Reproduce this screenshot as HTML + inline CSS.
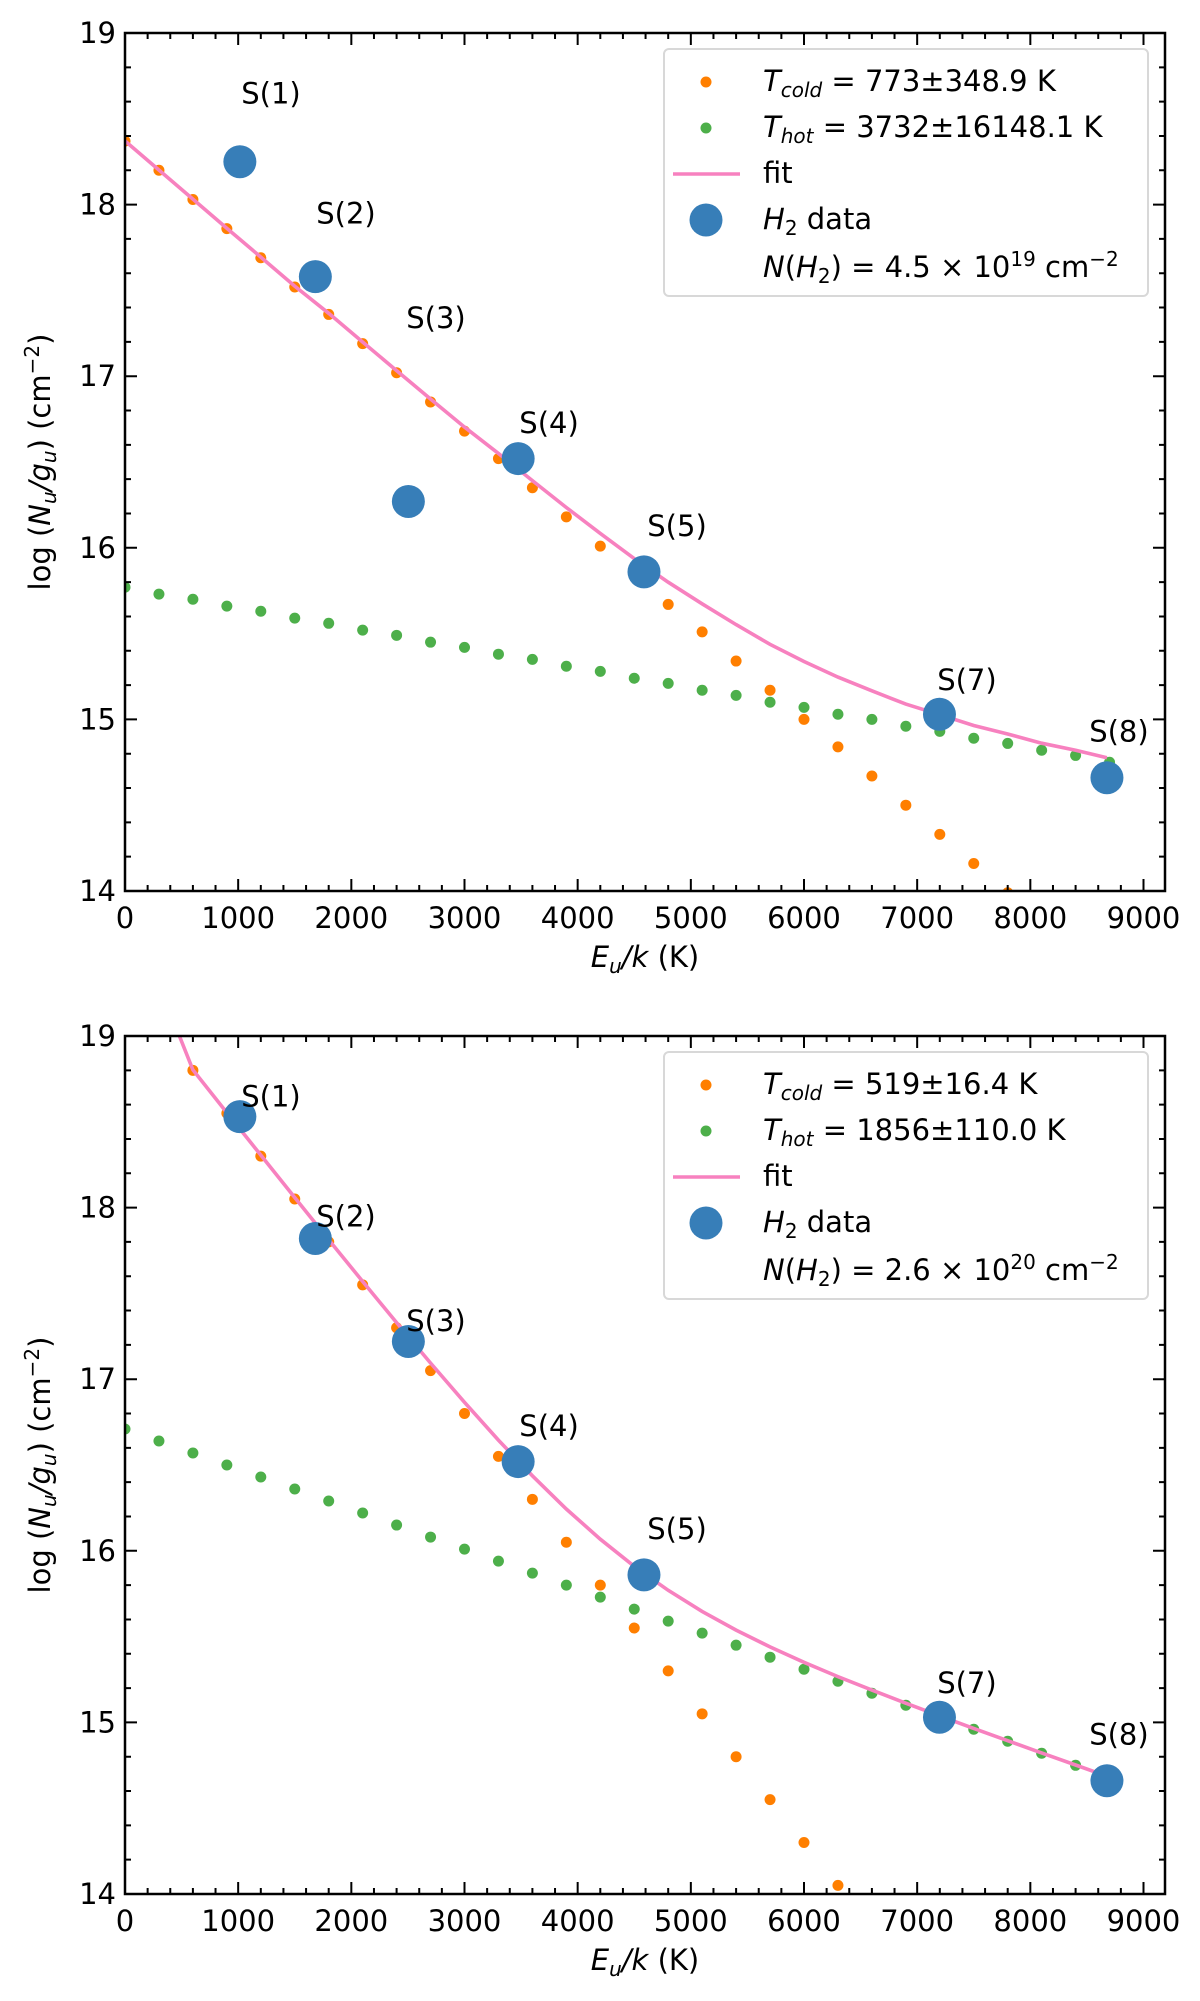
<!DOCTYPE html>
<html><head><meta charset="utf-8"><title>H2 excitation diagrams</title>
<style>
html,body{margin:0;padding:0;background:#fff;width:1200px;height:2001px;overflow:hidden;}
svg{display:block;font-family:"DejaVu Sans","Liberation Sans",sans-serif;}
</style></head>
<body>
<svg id="fig" width="1200" height="2001" viewBox="0 0 1200 2001" xmlns="http://www.w3.org/2000/svg"></svg>
<script>
// ---- data ----
const gridX = [0,300,600,900,1200,1500,1800,2100,2400,2700,3000,3300,3600,3900,4200,4500,4800,5100,5400,5700,6000,6300,6600,6900,7200,7500,7800,8100,8400,8700];
const lineNames = ["S(1)","S(2)","S(3)","S(4)","S(5)","S(7)","S(8)"];
const lineEu = [1015,1682,2504,3474,4586,7197,8677];
const labelX = [1290,1953,2748,3747,4878,7440,8783];
const labelY = [18.59,17.89,17.28,16.67,16.07,15.17,14.87];

const coldTop = [18.37,18.2,18.03,17.86,17.69,17.52,17.36,17.19,17.02,16.85,16.68,16.52,16.35,16.18,16.01,15.84,15.67,15.51,15.34,15.17,15.0,14.84,14.67,14.5,14.33,14.16,13.99,13.82,13.65,13.48];
const hotTop = [15.77,15.73,15.7,15.66,15.63,15.59,15.56,15.52,15.49,15.45,15.42,15.38,15.35,15.31,15.28,15.24,15.21,15.17,15.14,15.1,15.07,15.03,15.0,14.96,14.93,14.89,14.86,14.82,14.79,14.75];
const dataTop = [18.25,17.58,16.27,16.52,15.86,15.03,14.66];

const coldBot = [19.55,19.3,18.8,18.55,18.3,18.05,17.8,17.55,17.3,17.05,16.8,16.55,16.3,16.05,15.8,15.55,15.3,15.05,14.8,14.55,14.3,14.05,13.8,13.55,13.3,13.05,12.8,12.55,12.3,12.05];
const hotBot = [16.71,16.64,16.57,16.5,16.43,16.36,16.29,16.22,16.15,16.08,16.01,15.94,15.87,15.8,15.73,15.66,15.59,15.52,15.45,15.38,15.31,15.24,15.17,15.1,15.03,14.96,14.89,14.82,14.75,14.68];
const dataBot = [18.53,17.82,17.22,16.52,15.86,15.03,14.66];

const xTicks = [0,1000,2000,3000,4000,5000,6000,7000,8000,9000];
const yTicks = [14,15,16,17,18,19];

const NS = "http://www.w3.org/2000/svg";
const svg = document.getElementById("fig");
function mk(tag, attrs, parent){const e=document.createElementNS(NS,tag);for(const k in attrs)e.setAttribute(k,attrs[k]);(parent||svg).appendChild(e);return e;}

const C_OR="#ff7f00", C_GR="#4daf4a", C_PK="#f781bf", C_BL="#377eb8";
const FS=29, FSS=20;

function panel(idx, top, cold, hot, data, legendTexts){
  const L=125, R=1165, T=top, B=top+858;
  const xmin=0, xmax=9190, ymin=14, ymax=19;
  const sx=v=>L+(v-xmin)/(xmax-xmin)*(R-L);
  const sy=v=>B-(v-ymin)/(ymax-ymin)*(B-T);
  const g=mk("g",{});
  
  
  const cid="clip"+idx;
  const cp=mk("clipPath",{id:cid},g); mk("rect",{x:L,y:T,width:R-L,height:B-T},cp);
  const plot=mk("g",{"clip-path":"url(#"+cid+")"},g);
  const cg=mk("g",{},plot);
  
  
  gridX.forEach((x,i)=>{const c=mk("circle",{cx:sx(x),cy:sy(cold[i]),r:5.5,fill:C_OR},cg);
    
    });
  const hg=mk("g",{},plot);
  
  
  gridX.forEach((x,i)=>{const c=mk("circle",{cx:sx(x),cy:sy(hot[i]),r:5.5,fill:C_GR},hg);
    
    });
  const pts=[];
  gridX.forEach((x,i)=>{ if(x<=lineEu[lineEu.length-1]){ const f=Math.log10(Math.pow(10,cold[i])+Math.pow(10,hot[i])); pts.push(sx(x).toFixed(1)+","+sy(f).toFixed(1)); }});
  const xe=lineEu[lineEu.length-1]; const i1=gridX.length-2;
  const t=(xe-gridX[i1])/(gridX[i1+1]-gridX[i1]);
  const ce=cold[i1]+t*(cold[i1+1]-cold[i1]), he=hot[i1]+t*(hot[i1+1]-hot[i1]);
  pts.push(sx(xe).toFixed(1)+","+sy(Math.log10(Math.pow(10,ce)+Math.pow(10,he))).toFixed(1));
  const fl=mk("polyline",{points:pts.join(" "),fill:"none",stroke:C_PK,"stroke-width":3.6},plot);
  
  
  const dg=mk("g",{},plot);
  
  
  lineEu.forEach((x,i)=>{const c=mk("circle",{cx:sx(x),cy:sy(data[i]),r:16.5,fill:C_BL},dg);
    
    });
  lineNames.forEach((n,i)=>{const tx=mk("text",{x:sx(labelX[i]),y:sy(labelY[i]),"font-size":FS,"text-anchor":"middle",fill:"#000"},g);
    tx.textContent=n;
    
    });
  const fr=mk("rect",{x:L,y:T,width:R-L,height:B-T,fill:"none",stroke:"#000","stroke-width":2.5},g);
  
  
  let d="";
  for(let v=0; v<=xmax; v+=200){const X=sx(v); const len=(v%1000===0)?12:6; d+=`M${X},${B}v${-len}M${X},${T}v${len}`;}
  for(let v=ymin; v<=ymax+1e-9; v+=0.2){const Y=sy(v); const len=(Math.abs(v-Math.round(v))<1e-6)?12:6; d+=`M${L},${Y}h${len}M${R},${Y}h${-len}`;}
  const tk=mk("path",{d:d,stroke:"#000","stroke-width":2,fill:"none"},g);
  
  
  xTicks.forEach(v=>{const tx=mk("text",{x:sx(v),y:B+37,"font-size":FS,"text-anchor":"middle"},g);tx.textContent=v;
    
    });
  yTicks.forEach(v=>{const tx=mk("text",{x:L-9,y:sy(v)+10,"font-size":FS,"text-anchor":"end"},g);tx.textContent=v;
    
    });
  const xt=mk("text",{x:645,y:B+76,"font-size":FS,"text-anchor":"middle"},g);
  xt.innerHTML=`<tspan font-style="italic">E</tspan><tspan font-style="italic" font-size="${FSS}" dy="6">u</tspan><tspan dy="-6" font-style="italic">/k</tspan> (K)`;
  
  
  const yt=mk("text",{x:0,y:0,"font-size":FS,"text-anchor":"middle",transform:`translate(50,${(T+B)/2}) rotate(-90)`},g);
  yt.innerHTML=`log (<tspan font-style="italic">N</tspan><tspan font-style="italic" font-size="${FSS}" dy="6">u</tspan><tspan dy="-6" font-style="italic">/g</tspan><tspan font-style="italic" font-size="${FSS}" dy="6">u</tspan><tspan dy="-6">) (cm</tspan><tspan font-size="${FSS}" dy="-11">−2</tspan><tspan dy="11">)</tspan>`;
  
  
  const lg=mk("g",{},g);
  
  
  const ly=T+16;
  mk("rect",{x:664,y:ly,width:484,height:247,rx:5,fill:"#fff","fill-opacity":0.85,stroke:"#d8d8d8","stroke-width":2},lg);
  const rows=[ly+42,ly+88,ly+134,ly+180,ly+228];
  mk("circle",{cx:706,cy:rows[0]-9,r:5.5,fill:C_OR},lg);
  mk("circle",{cx:706,cy:rows[1]-9,r:5.5,fill:C_GR},lg);
  mk("line",{x1:673,x2:740,y1:rows[2]-9,y2:rows[2]-9,stroke:C_PK,"stroke-width":3.6},lg);
  mk("circle",{cx:706,cy:rows[3]-9,r:16.5,fill:C_BL},lg);
  legendTexts.forEach((h,i)=>{const tx=mk("text",{x:763,y:rows[i],"font-size":FS},lg);tx.innerHTML=h;
    
    });
}

function legendT(tc,th,nn,ex){
  return [
    `<tspan font-style="italic">T</tspan><tspan font-style="italic" font-size="${FSS}" dy="6">cold</tspan><tspan dy="-6"> = ${tc} K</tspan>`,
    `<tspan font-style="italic">T</tspan><tspan font-style="italic" font-size="${FSS}" dy="6">hot</tspan><tspan dy="-6"> = ${th} K</tspan>`,
    `fit`,
    `<tspan font-style="italic">H</tspan><tspan font-size="${FSS}" dy="6">2</tspan><tspan dy="-6"> data</tspan>`,
    `<tspan font-style="italic">N</tspan>(<tspan font-style="italic">H</tspan><tspan font-size="${FSS}" dy="6">2</tspan><tspan dy="-6">) = ${nn} × 10</tspan><tspan font-size="${FSS}" dy="-11">${ex}</tspan><tspan dy="11"> cm</tspan><tspan font-size="${FSS}" dy="-11">−2</tspan>`
  ];
}

panel(0, 33, coldTop, hotTop, dataTop, legendT("773±348.9","3732±16148.1","4.5","19"));
panel(1, 1036, coldBot, hotBot, dataBot, legendT("519±16.4","1856±110.0","2.6","20"));
</script>
</body></html>
